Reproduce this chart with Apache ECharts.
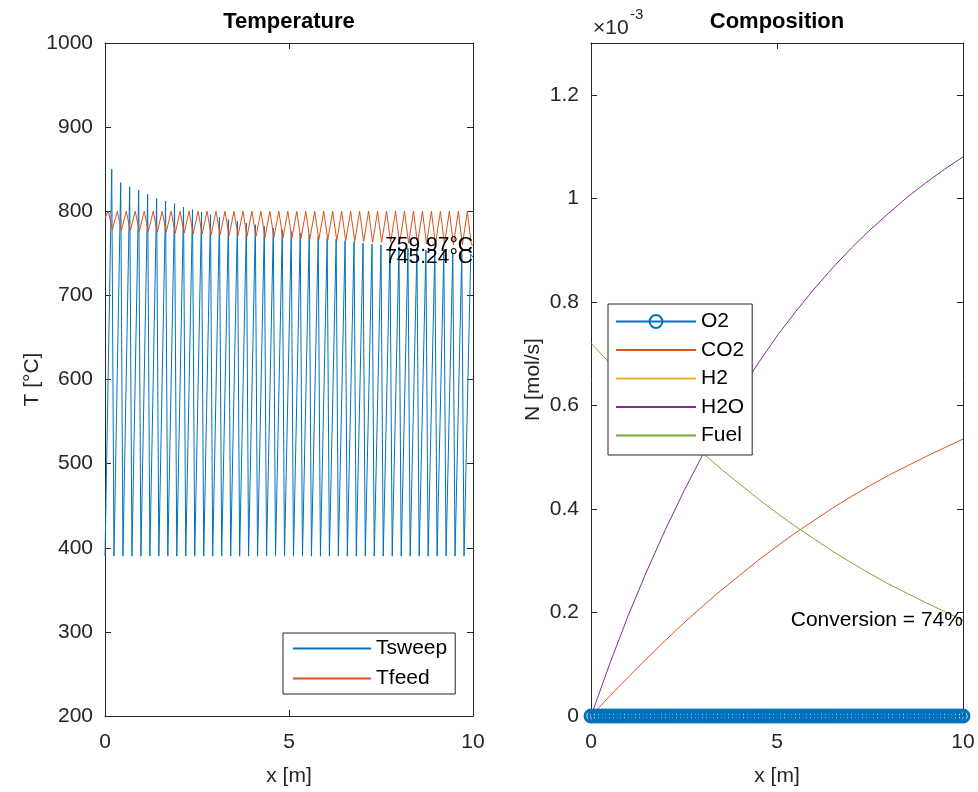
<!DOCTYPE html>
<html><head><meta charset="utf-8">
<script src="https://cdn.jsdelivr.net/npm/echarts@6/dist/echarts.min.js"></script>
<style>html,body{margin:0;padding:0;background:#fff}#c{width:978px;height:792px}</style>
</head><body><div id="c"></div>
<script>
// ---------- Temperature panel data ----------
const toothStart = [0.000,0.244,0.488,0.732,0.976,1.220,1.463,1.707,1.951,2.195,2.439,2.683,2.927,3.171,3.415,3.659,3.902,4.146,4.390,4.634,4.878,5.122,5.366,5.610,5.854,6.098,6.341,6.585,6.829,7.073,7.317,7.561,7.805,8.049,8.293,8.537,8.780,9.024,9.268,9.512,9.756];
const sweepLow = 390;
const sweepPeaks = [850,834,829,825,820,815,812,809,805,802,799,796,793,790,788,786,784,782,780,778,776,774,772,770,768,767,765,764,762,761,760,758,757,756,755,754,753,752,751,750,749];
const sweepEnd = 745.24;
const feedStart = 792;
const feedPeaks = [800,800,800,800,800,800,800,800,800,800,800,800,800,800,800,800,800,800,800,800,800,800,800,800,800,800,800,800,800,800,800,800,800,800,800,800,800,800,800,800,800];
const feedLows = [778,777,777,776,776,775,775,774,774,773,773,772,772,771,771,770,770,769,769,768,768,767,767,766,766,765,765,764,764,763,763,763,762,762,762,761,761,761,760,760,760];
const feedEnd = 759.97;
const xEnd = 10;

// ---------- Composition panel data (mol/s, x1e-3) ----------
const compX = [0,0.5,1,1.5,2,2.5,3,3.5,4,4.5,5,5.5,6,6.5,7,7.5,8,8.5,9,9.5,10];
const co2  = [0,0.038,0.075,0.111,0.146,0.180,0.212,0.243,0.272,0.301,0.328,0.354,0.378,0.402,0.424,0.445,0.465,0.483,0.501,0.518,0.535];
const h2   = [0,0,0,0,0,0,0,0,0,0,0,0,0,0,0,0,0,0,0,0,0];
const h2o  = [0,0.100,0.194,0.280,0.360,0.435,0.504,0.568,0.627,0.682,0.734,0.781,0.825,0.866,0.904,0.939,0.971,1.002,1.030,1.056,1.080];
const fuel = [0.720,0.682,0.645,0.609,0.574,0.540,0.508,0.477,0.448,0.419,0.392,0.366,0.342,0.318,0.296,0.275,0.255,0.237,0.219,0.202,0.185];
const o2X  = [0,0.1,0.2,0.3,0.4,0.5,0.6,0.7,0.8,0.9,1,1.1,1.2,1.3,1.4,1.5,1.6,1.7,1.8,1.9,2,2.1,2.2,2.3,2.4,2.5,2.6,2.7,2.8,2.9,3,3.1,3.2,3.3,3.4,3.5,3.6,3.7,3.8,3.9,4,4.1,4.2,4.3,4.4,4.5,4.6,4.7,4.8,4.9,5,5.1,5.2,5.3,5.4,5.5,5.6,5.7,5.8,5.9,6,6.1,6.2,6.3,6.4,6.5,6.6,6.7,6.8,6.9,7,7.1,7.2,7.3,7.4,7.5,7.6,7.7,7.8,7.9,8,8.1,8.2,8.3,8.4,8.5,8.6,8.7,8.8,8.9,9,9.1,9.2,9.3,9.4,9.5,9.6,9.7,9.8,9.9,10];
const o2   = [0,0,0,0,0,0,0,0,0,0, 0,0,0,0,0,0,0,0,0,0, 0,0,0,0,0,0,0,0,0,0, 0,0,0,0,0,0,0,0,0,0, 0,0,0,0,0,0,0,0,0,0, 0,0,0,0,0,0,0,0,0,0, 0,0,0,0,0,0,0,0,0,0, 0,0,0,0,0,0,0,0,0,0, 0,0,0,0,0,0,0,0,0,0, 0,0,0,0,0,0,0,0,0,0, 0];

// ---------- build point lists ----------
const RISE = 0.183, FPEAK = 0.09, FLOW = 0.20;
const sweepPts = [];
toothStart.forEach((x0, k) => { sweepPts.push([x0, sweepLow]); sweepPts.push([x0 + RISE, sweepPeaks[k]]); });
sweepPts.push([xEnd, sweepEnd]);
const feedPts = [[0, feedStart]];
toothStart.forEach((x0, k) => { feedPts.push([x0 + FPEAK, feedPeaks[k]]); feedPts.push([x0 + FLOW, feedLows[k]]); });
feedPts.push([xEnd, feedEnd]);
const zip = (xs, ys) => xs.map((x, i) => [x, ys[i]]);
const conversion = Math.round((1 - fuel[fuel.length - 1] / fuel[0]) * 100);

const FONT = '"Liberation Sans", Arial, Helvetica, sans-serif';
const AX = '#262626';
const FS = 21;
const C = {blue:'#0072BD', orange:'#D95319', yellow:'#EDB120', purple:'#7E2F8E', green:'#77AC30'};

function xAx(g, pos, show, name) {
  return {type:'value', gridIndex:g, position:pos, min:0, max:10, interval:5,
    axisLine:{show:true, onZero:false, lineStyle:{color:AX, width:1}},
    axisTick:{show:true, inside:true, length:6, lineStyle:{color:AX}},
    axisLabel:{show:show, color:AX, fontSize:FS, fontFamily:FONT, margin:16},
    splitLine:{show:false},
    name: show ? name : '', nameLocation:'middle', nameGap:50,
    nameTextStyle:{color:AX, fontSize:FS, fontFamily:FONT}};
}
function yAx(g, pos, show, min, max, itv, name, gap) {
  return {type:'value', gridIndex:g, position:pos, min:min, max:max, interval:itv,
    axisLine:{show:true, onZero:false, lineStyle:{color:AX, width:1}},
    axisTick:{show:true, inside:true, length:6, lineStyle:{color:AX}},
    axisLabel:{show:show, color:AX, fontSize:FS, fontFamily:FONT, margin:12, showMaxLabel: max === 1000,
               formatter: v => String(+v.toFixed(2))},
    splitLine:{show:false},
    name: show ? name : '', nameLocation:'middle', nameGap:gap, nameRotate:90,
    nameTextStyle:{color:AX, fontSize:FS, fontFamily:FONT}};
}
const endLabel = (coord, text) => ({
  silent:true, symbol:'circle', symbolSize:0.1, itemStyle:{color:'rgba(0,0,0,0)'},
  label:{show:true, position:'left', distance:0, formatter:text, color:'#000', fontSize:FS, fontFamily:FONT},
  data:[{coord:coord}]
});
const lineSer = (name, xi, yi, data, color, extra) => Object.assign({
  name, type:'line', xAxisIndex:xi, yAxisIndex:yi, data, symbol:'none', showSymbol:false,
  lineStyle:{color, width:1}, itemStyle:{color}, animation:false, z:2
}, extra || {});
const noSym = n => ({name:n, itemStyle:{opacity:0}});

const chart = echarts.init(document.getElementById('c'), null, {renderer:'canvas'});
chart.setOption({
  animation:false,
  backgroundColor:'#fff',
  grid:[
    {left:105, top:43, width:368, height:673},
    {left:591, top:43, width:372, height:673}
  ],
  xAxis:[xAx(0,'bottom',true,'x [m]'), xAx(0,'top',false), xAx(1,'bottom',true,'x [m]'), xAx(1,'top',false)],
  yAxis:[yAx(0,'left',true,200,1000,100,'T [°C]',47), yAx(0,'right',false,200,1000,100),
         yAx(1,'left',true,0,1.3,0.2,'N [mol/s]',47), yAx(1,'right',false,0,1.3,0.2)],
  legend:[
    {data:[noSym('Tsweep'),noSym('Tfeed')], left:283, top:633, orient:'vertical', itemWidth:78, itemHeight:20, itemGap:9,
     padding:[5,8,5,9], borderColor:AX, borderWidth:1, borderRadius:0, backgroundColor:'#fff', selectedMode:false,
     textStyle:{fontSize:FS, color:'#000', fontFamily:FONT}},
    {data:[{name:'O2', itemStyle:{borderWidth:2}},noSym('CO2'),noSym('H2'),noSym('H2O'),noSym('Fuel')], left:608, top:304, orient:'vertical', itemWidth:80, itemHeight:16, itemGap:7.5,
     padding:[7,8,9,7], borderColor:AX, borderWidth:1, borderRadius:0, backgroundColor:'#fff', selectedMode:false,
     textStyle:{fontSize:FS, color:'#000', fontFamily:FONT}}
  ],
  graphic:[
    {type:'text', x:289, y:22, style:{text:'Temperature', fontSize:22, fontWeight:'bold', fill:'#000', fontFamily:FONT, align:'center', verticalAlign:'middle'}},
    {type:'text', x:777, y:22, style:{text:'Composition', fontSize:22, fontWeight:'bold', fill:'#000', fontFamily:FONT, align:'center', verticalAlign:'middle'}},
    {type:'text', x:593, y:28, style:{text:'×10', fontSize:21, fill:AX, fontFamily:FONT, align:'left', verticalAlign:'middle'}},
    {type:'text', x:630, y:15, style:{text:'-3', fontSize:15, fill:AX, fontFamily:FONT, align:'left', verticalAlign:'middle'}}
  ],
  series:[
    lineSer('Tsweep',0,0,sweepPts,C.blue,{markPoint:endLabel([xEnd, sweepEnd], sweepEnd.toFixed(2)+'°C')}),
    lineSer('Tfeed',0,0,feedPts,C.orange,{markPoint:endLabel([xEnd, feedEnd], feedEnd.toFixed(2)+'°C')}),
    lineSer('CO2',2,2,zip(compX,co2),C.orange),
    lineSer('H2',2,2,zip(compX,h2),C.yellow),
    lineSer('H2O',2,2,zip(compX,h2o),C.purple),
    lineSer('Fuel',2,2,zip(compX,fuel),C.green,{markPoint:endLabel([xEnd, fuel[fuel.length-1]], 'Conversion = '+conversion+'%')}),
    {name:'O2', type:'line', xAxisIndex:2, yAxisIndex:2, data:zip(o2X,o2), symbol:'circle', symbolSize:12, showSymbol:true,
     lineStyle:{color:C.blue, width:1}, itemStyle:{color:'rgba(0,0,0,0)', borderColor:C.blue, borderWidth:3},
     animation:false, z:3, clip:false}
  ]
});
</script></body></html>
